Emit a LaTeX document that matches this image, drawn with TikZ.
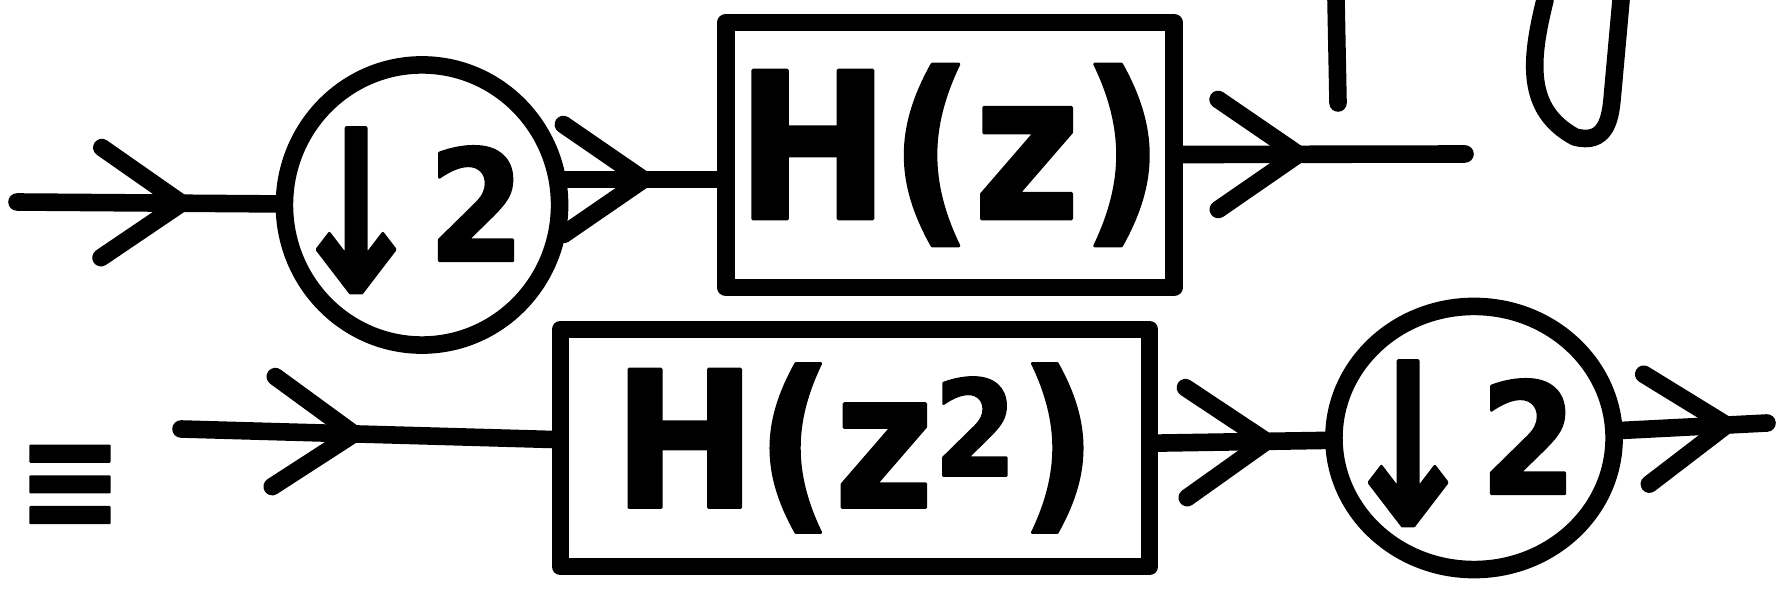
\documentclass[tikz,border=0pt]{standalone}
\usepackage{fontspec}
\usepackage{graphicx}
\newfontfamily\handfont{DejaVu Sans Condensed Bold}[FakeBold=1.5]
\usetikzlibrary{shapes.geometric, arrows.meta, decorations.markings}

% down-sampler label, kept out of the node size
\newcommand{\downtwo}{\makebox[0pt]{\smash{\lower4pt\hbox{$\vcenter{\hbox{\fontsize{64}{64}\selectfont
    \scalebox{0.85}[1]{↓}\fontsize{44}{44}\selectfont\raisebox{0.2em}{2}\kern10pt}}$}}}}

\begin{document}
\begin{tikzpicture}[
    x=0.01cm, y=-0.01cm,
    line width=5pt, line cap=round, line join=round,
    font=\handfont,
    filt/.style={rectangle, draw, inner sep=0pt},
    down/.style={ellipse, draw, inner sep=0pt},
    flow/.style={postaction={decorate}, decoration={markings,
        mark=at position #1 with {\arrow{Straight Barb[round, length=8mm, width=11mm]}}}}
]
\useasboundingbox (0,0) rectangle (1777,598);

% upper chain: down-sample, then H(z)
\node[down, minimum width=2.75cm, minimum height=2.8cm] (dsA) at (422,205) {\downtwo};
\node[filt, minimum width=4.48cm, minimum height=2.65cm] (hA) at (950,155) {\fontsize{58}{58}\selectfont H(z)};
\coordinate (inA) at (17,202);
\coordinate (outA) at (1465,154);

% lower chain: H(z^2), then down-sample
\node (eq) at (70,487) {\fontsize{40}{40}\selectfont ≡};
\node[filt, minimum width=5.89cm, minimum height=2.37cm] (hB) at (855,448) {\fontsize{54}{54}\selectfont H(z\textsuperscript{2})};
\node[down, minimum width=2.8cm, minimum height=2.63cm] (dsB) at (1474,438) {\downtwo};
\coordinate (inB) at (181,429);
\coordinate (outB) at (1767,423);

\draw[flow=0.67] (inA) -- (dsA);
\draw[flow=0.57] (dsA.10) -- (dsA.10 -| hA.west);
\draw[flow=0.44] (hA) -- (outA);
\draw[flow=0.49] (inB) -- (hB);
\draw[flow=0.70] (hB) -- (dsB);
\draw[flow=0.78] (dsB) -- (outB);

% strokes cut off at the top edge
\draw (1336,0) -- (1338,103);
\draw (1545,0) .. controls (1530,60) and (1525,110) .. (1575,137)
      .. controls (1605,145) and (1610,120) .. (1612,100) -- (1621,0);
\end{tikzpicture}
\end{document}
